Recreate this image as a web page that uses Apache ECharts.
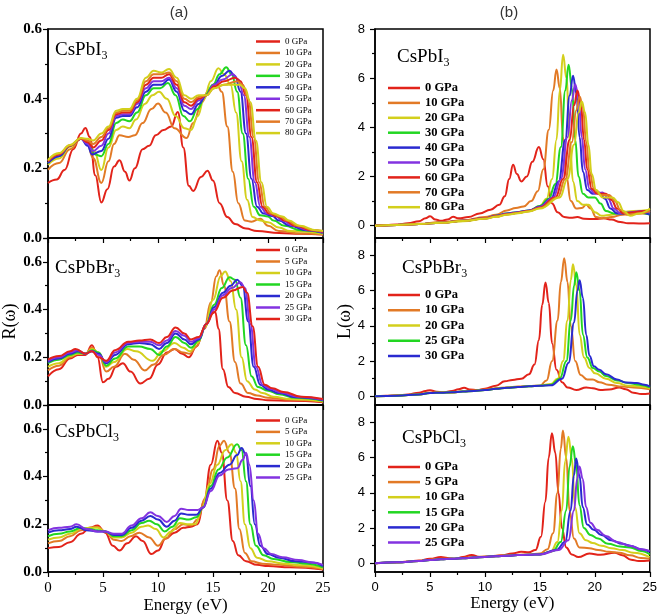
<!DOCTYPE html>
<html><head><meta charset="utf-8">
<script src="https://cdn.jsdelivr.net/npm/echarts@6/dist/echarts.min.js"></script>
<style>html,body{margin:0;padding:0;background:#fff}#c{width:660px;height:616px}</style>
</head><body><div id="c"></div><script>
// ---------- tick labels / categories ----------
const energyTicks = [0, 5, 10, 15, 20, 25];
const lossTicks = [0, 2, 4, 6, 8];
const lossMinorTicks = [1, 3, 5, 7];
const pressI = ['0 GPa','10 GPa','20 GPa','30 GPa','40 GPa','50 GPa','60 GPa','70 GPa','80 GPa'];
const pressBrR = ['0 GPa','5 GPa','10 GPa','15 GPa','20 GPa','25 GPa','30 GPa'];
const pressClR = ['0 GPa','5 GPa','10 GPa','15 GPa','20 GPa','25 GPa'];
const pressBrL = ['0 GPa','10 GPa','20 GPa','25 GPa','30 GPa'];
const pressClL = ['0 GPa','5 GPa','10 GPa','15 GPa','20 GPa','25 GPa'];

// ---------- R(w) CsPbI3 ----------
const R_I_0 = [[0,0.158],[0.8,0.168],[1.5,0.195],[2.3,0.255],[3.0,0.3],[3.4,0.316],[3.8,0.29],[4.3,0.18],[4.85,0.102],[5.4,0.14],[6.0,0.205],[6.5,0.223],[7.0,0.19],[7.4,0.165],[7.9,0.2],[8.6,0.255],[9.2,0.265],[9.8,0.295],[10.5,0.31],[11.2,0.32],[11.8,0.362],[12.3,0.26],[12.8,0.15],[13.2,0.135],[13.9,0.175],[14.5,0.193],[15.0,0.165],[15.6,0.1],[16.3,0.06],[17.0,0.04],[18.0,0.027],[19.0,0.02],[21,0.014],[23,0.012],[25,0.01]];
const R_I_10 = [[0,0.196],[1,0.215],[2,0.255],[3,0.285],[3.5,0.28],[4.1,0.23],[4.85,0.158],[5.5,0.22],[6.0,0.27],[6.5,0.295],[7.3,0.29],[7.9,0.295],[8.6,0.33],[9.4,0.37],[10,0.386],[10.7,0.36],[11.5,0.315],[12.6,0.287],[13.2,0.33],[14,0.39],[14.6,0.425],[15.3,0.445],[15.8,0.42],[16.3,0.32],[16.8,0.19],[17.3,0.1],[17.9,0.05],[18.5,0.047],[19.3,0.055],[20,0.035],[21,0.02],[23,0.013],[25,0.01]];
const R_I_20 = [[0,0.21],[1,0.228],[2,0.262],[3,0.285],[3.6,0.28],[4.2,0.25],[4.85,0.195],[5.5,0.26],[6.2,0.31],[6.8,0.32],[7.4,0.315],[8.0,0.34],[8.8,0.385],[9.5,0.41],[10.1,0.42],[10.8,0.4],[11.6,0.35],[12.4,0.315],[13,0.31],[13.6,0.35],[14.2,0.4],[14.8,0.45],[15.5,0.487],[16.0,0.47],[16.6,0.44],[17.1,0.36],[17.6,0.22],[18.1,0.11],[18.6,0.06],[19.3,0.05],[20,0.045],[21,0.03],[22,0.02],[25,0.012]];
const R_I_30 = [[0,0.215],[1,0.235],[2,0.265],[3,0.285],[3.7,0.27],[4.3,0.24],[4.85,0.235],[5.5,0.27],[6.2,0.33],[6.8,0.34],[7.4,0.335],[8.1,0.36],[8.9,0.41],[9.6,0.43],[10.2,0.43],[10.9,0.445],[11.6,0.41],[12.3,0.35],[12.9,0.335],[13.6,0.37],[14.3,0.41],[15,0.44],[15.6,0.47],[16.2,0.49],[16.7,0.47],[17.2,0.42],[17.7,0.3],[18.2,0.17],[18.7,0.09],[19.3,0.065],[20,0.062],[20.5,0.05],[21.5,0.035],[23,0.022],[25,0.015]];
const R_I_40 = [[0,0.215],[1,0.235],[2,0.265],[3,0.285],[3.6,0.265],[4.0,0.24],[4.85,0.25],[5.5,0.285],[6.2,0.345],[6.8,0.35],[7.4,0.35],[8.1,0.375],[8.9,0.42],[9.6,0.44],[10.3,0.44],[11,0.455],[11.7,0.42],[12.4,0.365],[13,0.355],[13.7,0.385],[14.4,0.41],[15.1,0.44],[15.8,0.465],[16.5,0.48],[17,0.465],[17.5,0.42],[18,0.3],[18.5,0.17],[19,0.09],[19.6,0.07],[20.4,0.063],[21,0.05],[22,0.035],[23.5,0.022],[25,0.015]];
const R_I_50 = [[0,0.22],[1,0.24],[2,0.265],[3,0.285],[3.6,0.27],[4.1,0.25],[4.85,0.265],[5.5,0.3],[6.2,0.35],[6.8,0.355],[7.4,0.355],[8.1,0.385],[8.9,0.43],[9.6,0.45],[10.3,0.45],[11,0.46],[11.7,0.43],[12.4,0.38],[13,0.37],[13.7,0.395],[14.4,0.41],[15.1,0.44],[15.9,0.455],[16.8,0.47],[17.3,0.455],[17.8,0.41],[18.3,0.29],[18.8,0.16],[19.3,0.09],[19.9,0.07],[20.7,0.063],[21.3,0.05],[22.3,0.035],[23.8,0.022],[25,0.016]];
const R_I_60 = [[0,0.22],[1,0.24],[2,0.265],[3,0.285],[3.6,0.275],[4.1,0.26],[4.85,0.28],[5.5,0.31],[6.2,0.355],[6.8,0.36],[7.4,0.36],[8.1,0.39],[8.9,0.44],[9.6,0.46],[10.3,0.46],[11,0.47],[11.7,0.44],[12.4,0.39],[13,0.38],[13.7,0.4],[14.4,0.41],[15.1,0.435],[16,0.45],[17,0.46],[17.5,0.45],[18,0.41],[18.5,0.29],[19,0.16],[19.5,0.09],[20.1,0.07],[20.9,0.062],[21.5,0.05],[22.5,0.035],[24,0.022],[25,0.018]];
const R_I_70 = [[0,0.222],[1,0.242],[2,0.266],[3,0.286],[3.6,0.28],[4.1,0.27],[4.85,0.29],[5.5,0.315],[6.2,0.36],[6.8,0.365],[7.4,0.365],[8.1,0.395],[8.9,0.45],[9.6,0.47],[10.3,0.47],[11,0.475],[11.7,0.45],[12.4,0.4],[13,0.39],[13.7,0.405],[14.4,0.41],[15.1,0.43],[16,0.44],[17.2,0.45],[17.7,0.44],[18.2,0.4],[18.7,0.29],[19.2,0.16],[19.7,0.09],[20.3,0.07],[21.1,0.062],[21.7,0.05],[22.7,0.035],[24.2,0.022],[25,0.02]];
const R_I_80 = [[0,0.224],[1,0.244],[2,0.267],[3,0.287],[3.6,0.285],[4.1,0.28],[4.85,0.3],[5.5,0.32],[6.2,0.365],[6.8,0.37],[7.4,0.37],[8.1,0.4],[8.9,0.46],[9.6,0.48],[10.3,0.475],[11,0.485],[11.7,0.46],[12.4,0.41],[13,0.4],[13.7,0.41],[14.4,0.41],[15.1,0.43],[16,0.44],[17.4,0.44],[17.9,0.43],[18.4,0.39],[18.9,0.28],[19.4,0.16],[19.9,0.09],[20.5,0.07],[21.3,0.062],[21.9,0.05],[22.9,0.035],[24.4,0.022],[25,0.02]];

// ---------- R(w) CsPbBr3 ----------
const R_Br_0 = [[0,0.12],[1,0.15],[2,0.195],[2.7,0.21],[3.4,0.21],[4.0,0.25],[4.5,0.2],[5.0,0.095],[5.5,0.11],[6.2,0.16],[6.8,0.175],[7.5,0.14],[8.4,0.09],[9.2,0.11],[10,0.17],[10.8,0.22],[11.5,0.235],[12.2,0.215],[12.8,0.2],[13.5,0.245],[14.2,0.32],[14.8,0.38],[15.2,0.39],[15.5,0.32],[15.9,0.15],[16.4,0.075],[17,0.05],[18,0.035],[19,0.025],[20,0.02],[22,0.018],[25,0.012]];
const R_Br_5 = [[0,0.145],[1,0.165],[2,0.2],[2.7,0.215],[3.4,0.215],[4.0,0.24],[4.6,0.215],[5.3,0.14],[6.0,0.16],[7.0,0.215],[7.8,0.19],[8.8,0.145],[9.6,0.17],[10.5,0.21],[11.5,0.235],[12.3,0.22],[12.9,0.215],[13.5,0.245],[14.2,0.32],[14.8,0.43],[15.3,0.54],[15.6,0.565],[16,0.5],[16.5,0.35],[17,0.18],[17.5,0.09],[18.2,0.05],[19,0.04],[20,0.03],[22,0.022],[25,0.015]];
const R_Br_10 = [[0,0.16],[1,0.175],[2,0.205],[2.7,0.215],[3.4,0.215],[4.0,0.235],[4.6,0.22],[5.3,0.16],[6.0,0.18],[7.2,0.235],[8,0.225],[9.5,0.185],[10.4,0.225],[11.5,0.26],[12.3,0.24],[12.9,0.225],[13.6,0.26],[14.3,0.33],[15,0.44],[15.7,0.54],[16.1,0.56],[16.6,0.52],[17.1,0.4],[17.6,0.2],[18.1,0.1],[18.8,0.065],[19.5,0.05],[20.5,0.035],[22,0.025],[25,0.015]];
const R_Br_15 = [[0,0.175],[1,0.19],[2,0.21],[2.7,0.22],[3.4,0.215],[4,0.23],[4.6,0.22],[5.3,0.165],[6.1,0.195],[7.3,0.245],[8.3,0.245],[9.3,0.235],[10.1,0.21],[10.8,0.245],[11.6,0.285],[12.4,0.26],[13,0.24],[13.7,0.27],[14.4,0.34],[15.1,0.42],[15.8,0.49],[16.5,0.535],[17,0.525],[17.5,0.45],[18,0.25],[18.5,0.12],[19.1,0.075],[20,0.06],[21,0.045],[22.5,0.03],[25,0.018]];
const R_Br_20 = [[0,0.18],[1,0.195],[2,0.215],[2.7,0.225],[3.4,0.215],[4,0.225],[4.6,0.215],[5.3,0.175],[6.1,0.21],[7.3,0.255],[8.3,0.26],[9.3,0.255],[10.1,0.235],[10.8,0.26],[11.6,0.3],[12.4,0.275],[13,0.255],[13.7,0.275],[14.4,0.34],[15.1,0.41],[15.9,0.47],[16.6,0.5],[17.2,0.525],[17.7,0.5],[18.2,0.35],[18.7,0.16],[19.3,0.085],[20,0.065],[21,0.05],[22.5,0.032],[25,0.02]];
const R_Br_25 = [[0,0.185],[1,0.2],[2,0.22],[2.7,0.23],[3.4,0.215],[4,0.225],[4.6,0.21],[5.3,0.18],[6.1,0.22],[7.3,0.26],[8.3,0.265],[9.3,0.265],[10.1,0.25],[10.8,0.27],[11.6,0.31],[12.4,0.29],[13,0.265],[13.7,0.28],[14.4,0.34],[15.1,0.4],[15.9,0.46],[16.7,0.49],[17.5,0.515],[17.9,0.49],[18.4,0.34],[18.9,0.16],[19.5,0.085],[20.2,0.068],[21.2,0.052],[22.7,0.035],[25,0.022]];
const R_Br_30 = [[0,0.19],[1,0.205],[2,0.225],[2.5,0.235],[3.4,0.215],[4,0.225],[4.6,0.2],[5.3,0.185],[6.1,0.23],[7.3,0.265],[8.3,0.27],[9.3,0.275],[10.1,0.26],[10.8,0.285],[11.6,0.325],[12.4,0.3],[13,0.275],[13.7,0.285],[14.4,0.34],[15.1,0.39],[15.9,0.45],[16.8,0.48],[17.7,0.495],[18.1,0.47],[18.6,0.33],[19.1,0.16],[19.7,0.085],[20.4,0.07],[21.4,0.055],[23,0.035],[25,0.025]];

// ---------- R(w) CsPbCl3 ----------
const R_Cl_0 = [[0,0.1],[1,0.105],[2,0.125],[3,0.16],[3.8,0.185],[4.5,0.195],[5.2,0.165],[5.9,0.11],[6.5,0.09],[7.2,0.12],[8,0.15],[8.6,0.13],[9.4,0.075],[10,0.09],[10.7,0.14],[11.5,0.165],[12.3,0.185],[13,0.19],[13.6,0.2],[14.2,0.3],[14.8,0.45],[15.4,0.55],[15.8,0.5],[16.3,0.3],[16.8,0.13],[17.3,0.07],[18,0.045],[19,0.03],[20,0.025],[22,0.02],[25,0.01]];
const R_Cl_5 = [[0,0.12],[1,0.13],[2,0.15],[3,0.175],[3.8,0.185],[4.5,0.19],[5.2,0.17],[6,0.135],[6.7,0.13],[7.5,0.15],[8.3,0.165],[9.2,0.145],[10,0.11],[10.7,0.14],[11.5,0.18],[12.3,0.2],[13,0.195],[13.6,0.22],[14.3,0.31],[15,0.43],[15.6,0.53],[16,0.55],[16.5,0.5],[17,0.35],[17.4,0.18],[17.9,0.08],[18.5,0.045],[19.5,0.035],[21,0.03],[23,0.022],[25,0.012]];
const R_Cl_10 = [[0,0.135],[1,0.145],[2,0.16],[3,0.18],[3.8,0.185],[4.5,0.185],[5.2,0.17],[6,0.145],[6.7,0.145],[7.6,0.165],[8.5,0.19],[9.1,0.195],[9.8,0.18],[10.5,0.145],[11.2,0.17],[12,0.205],[12.8,0.2],[13.4,0.2],[14,0.27],[14.7,0.37],[15.4,0.45],[16.1,0.51],[16.7,0.535],[17.1,0.5],[17.5,0.38],[17.9,0.2],[18.4,0.1],[19,0.06],[20,0.045],[21.5,0.035],[23,0.028],[25,0.015]];
const R_Cl_15 = [[0,0.15],[1,0.16],[2,0.17],[3,0.185],[3.8,0.18],[4.5,0.175],[5.2,0.17],[6,0.15],[6.7,0.15],[7.6,0.175],[8.5,0.205],[9.2,0.215],[9.9,0.2],[10.6,0.17],[11.3,0.19],[12,0.225],[12.8,0.22],[13.5,0.23],[14.1,0.27],[14.8,0.36],[15.5,0.43],[16.3,0.48],[17.2,0.535],[17.6,0.51],[18,0.38],[18.4,0.2],[18.9,0.11],[19.6,0.07],[20.5,0.055],[22,0.042],[23.5,0.035],[25,0.02]];
const R_Cl_20 = [[0,0.165],[1,0.175],[2,0.18],[2.6,0.19],[3.5,0.175],[4.5,0.17],[5.2,0.17],[6,0.155],[6.7,0.155],[7.6,0.185],[8.5,0.215],[9.3,0.235],[10,0.22],[10.8,0.19],[11.5,0.215],[12.1,0.245],[12.8,0.24],[13.5,0.24],[14.1,0.27],[14.8,0.35],[15.6,0.415],[16.5,0.45],[17.2,0.49],[17.6,0.52],[18,0.49],[18.4,0.36],[18.8,0.2],[19.3,0.11],[20,0.075],[21,0.06],[22.5,0.045],[24,0.04],[25,0.025]];
const R_Cl_25 = [[0,0.175],[1,0.185],[2,0.19],[2.6,0.2],[3.5,0.18],[4.5,0.17],[5.2,0.17],[6,0.16],[6.7,0.16],[7.6,0.195],[8.5,0.225],[9.3,0.25],[10,0.235],[10.8,0.21],[11.5,0.235],[12.1,0.265],[12.8,0.26],[13.6,0.26],[14.1,0.27],[14.8,0.34],[15.6,0.405],[16.4,0.43],[17.2,0.435],[17.7,0.47],[18,0.5],[18.3,0.45],[18.7,0.3],[19.1,0.16],[19.6,0.1],[20.3,0.075],[21.3,0.062],[22.8,0.05],[24,0.04],[25,0.03]];

// ---------- L(w) CsPbI3 ----------
const L_I_0 = [[0,0],[1,0.02],[2,0.05],[3,0.1],[4,0.18],[4.6,0.3],[5,0.38],[5.5,0.25],[6,0.2],[6.6,0.25],[7.1,0.36],[7.6,0.3],[8.5,0.35],[9.5,0.5],[10.5,0.65],[11.3,0.85],[11.8,1.2],[12.2,1.9],[12.55,2.48],[12.9,2.1],[13.3,1.8],[13.8,2.0],[14.3,2.6],[14.9,3.2],[15.3,2.7],[15.7,1.6],[16.1,0.9],[16.6,0.55],[17.2,0.35],[17.8,0.32],[18.4,0.35],[19,0.28],[20,0.27],[20.8,0.3],[21.5,0.25],[22.3,0.15],[23,0.1],[24,0.09],[25,0.1]];
const L_I_10 = [[0,0],[2,0.03],[4,0.08],[6,0.15],[8,0.22],[10,0.35],[11,0.45],[12,0.62],[12.8,0.72],[13.5,0.78],[14.2,1.0],[14.8,1.4],[15.3,2.3],[15.8,3.9],[16.2,5.5],[16.5,6.35],[16.8,5.6],[17.1,3.6],[17.4,2.0],[17.8,1.0],[18.3,0.7],[18.8,0.72],[19.2,0.85],[19.6,0.7],[20.1,0.35],[20.7,0.3],[21.5,0.35],[22.5,0.45],[23.5,0.5],[25,0.5]];
const L_I_20 = [[0,0],[2,0.03],[4,0.07],[6,0.12],[8,0.18],[10,0.3],[11,0.38],[12,0.47],[13,0.53],[14,0.6],[15,0.8],[15.6,1.1],[16.1,1.9],[16.5,3.5],[16.8,5.5],[17.1,6.95],[17.4,6.0],[17.7,3.5],[18,1.8],[18.4,1.0],[18.9,0.85],[19.4,0.85],[20,0.55],[20.6,0.4],[21.5,0.45],[22.5,0.55],[23.5,0.6],[25,0.65]];
const L_I_30 = [[0,0],[2,0.03],[4,0.07],[6,0.12],[8,0.2],[10,0.3],[11,0.4],[12,0.5],[13,0.55],[14,0.62],[15,0.8],[15.8,1.1],[16.4,1.7],[16.9,3.2],[17.3,5.5],[17.6,6.55],[17.9,5.6],[18.2,3.5],[18.5,2.0],[18.9,1.3],[19.4,1.15],[20,1.15],[20.5,0.9],[21,0.6],[21.7,0.5],[22.5,0.5],[23.5,0.55],[25,0.45]];
const L_I_40 = [[0,0],[2,0.03],[4,0.07],[6,0.12],[8,0.2],[10,0.3],[11,0.4],[12,0.5],[13,0.55],[14,0.62],[15,0.78],[16,1.1],[16.7,1.8],[17.3,3.5],[17.7,5.3],[18,6.1],[18.3,5.4],[18.6,3.6],[18.9,2.2],[19.3,1.45],[19.8,1.3],[20.4,1.35],[20.9,1.1],[21.4,0.7],[22,0.5],[23,0.5],[24,0.55],[25,0.45]];
const L_I_50 = [[0,0],[2,0.03],[4,0.07],[6,0.12],[8,0.2],[10,0.3],[11,0.39],[12,0.48],[13,0.54],[14,0.61],[15,0.76],[16.2,1.15],[16.9,1.9],[17.5,3.6],[17.9,5.1],[18.2,5.75],[18.5,5.2],[18.8,3.6],[19.1,2.3],[19.5,1.5],[20,1.3],[20.7,1.35],[21.2,1.1],[21.7,0.7],[22.3,0.5],[23.3,0.55],[24.3,0.6],[25,0.55]];
const L_I_60 = [[0,0],[2,0.03],[4,0.07],[6,0.12],[8,0.2],[10,0.3],[11,0.38],[12,0.47],[13,0.53],[14,0.6],[15,0.74],[16.4,1.15],[17.1,1.9],[17.7,3.5],[18.1,4.9],[18.4,5.5],[18.7,5.0],[19,3.5],[19.3,2.3],[19.7,1.5],[20.2,1.3],[21,1.3],[21.5,1.05],[22,0.7],[22.6,0.5],[23.6,0.55],[24.5,0.6],[25,0.6]];
const L_I_70 = [[0,0],[2,0.03],[4,0.07],[6,0.12],[8,0.2],[10,0.29],[11,0.37],[12,0.46],[13,0.52],[14,0.59],[15,0.72],[16.6,1.15],[17.3,1.9],[17.9,3.4],[18.3,4.7],[18.6,5.25],[18.9,4.8],[19.2,3.4],[19.5,2.2],[19.9,1.5],[20.5,1.25],[21.3,1.25],[21.8,1.0],[22.3,0.65],[22.9,0.45],[23.9,0.5],[25,0.6]];
const L_I_80 = [[0,0],[2,0.03],[4,0.07],[6,0.12],[8,0.19],[10,0.28],[11,0.36],[12,0.45],[13,0.51],[14,0.58],[15,0.7],[16.8,1.15],[17.5,1.9],[18.1,3.3],[18.5,4.6],[18.8,5.05],[19.1,4.6],[19.4,3.3],[19.7,2.1],[20.1,1.45],[20.7,1.15],[21.6,1.15],[22.1,0.95],[22.6,0.6],[23.2,0.4],[24,0.5],[25,0.7]];

// ---------- L(w) CsPbBr3 ----------
const L_Br_0 = [[0,0],[1,0.02],[2,0.05],[3,0.1],[4,0.2],[4.6,0.3],[5,0.34],[5.6,0.25],[6.2,0.22],[7,0.3],[7.6,0.4],[8.1,0.48],[8.6,0.38],[9.3,0.35],[10,0.42],[11,0.6],[11.8,0.85],[12.5,0.92],[13.3,1.0],[14,1.25],[14.5,1.8],[14.9,3.2],[15.2,5.2],[15.5,6.47],[15.8,5.3],[16.1,3.0],[16.5,1.5],[17,0.8],[17.5,0.5],[18.3,0.35],[19.2,0.5],[19.8,0.45],[20.5,0.35],[21.3,0.38],[22.2,0.5],[22.8,0.4],[23.5,0.2],[24.2,0.12],[25,0.15]];
const L_Br_10 = [[0,0],[2,0.03],[4,0.1],[5,0.2],[6,0.22],[7,0.2],[8,0.28],[9,0.32],[10,0.38],[11,0.45],[12,0.5],[13,0.55],[14,0.58],[15,0.6],[15.6,0.9],[16.1,2.0],[16.6,4.3],[16.9,6.5],[17.2,7.85],[17.5,6.5],[17.8,4.0],[18.2,2.0],[18.7,1.2],[19.3,0.95],[19.8,0.95],[20.4,0.8],[21.2,0.65],[22.5,0.55],[23.5,0.5],[25,0.4]];
const L_Br_20 = [[0,0],[2,0.03],[4,0.1],[5,0.18],[6,0.2],[7,0.22],[8,0.27],[9,0.3],[10,0.35],[11,0.42],[12,0.48],[13,0.52],[14,0.56],[15,0.6],[16,0.7],[16.6,1.0],[17.1,2.0],[17.5,4.3],[17.8,6.6],[18,7.5],[18.3,6.3],[18.6,3.5],[19,2.2],[19.5,1.6],[20,1.3],[21,1.0],[22,0.75],[23,0.6],[24,0.55],[25,0.45]];
const L_Br_25 = [[0,0],[2,0.03],[4,0.1],[5,0.18],[6,0.2],[7,0.22],[8,0.27],[9,0.3],[10,0.35],[11,0.42],[12,0.48],[13,0.52],[14,0.56],[15,0.6],[16,0.65],[16.8,1.0],[17.4,2.0],[17.8,4.3],[18.1,6.3],[18.3,7.05],[18.6,6.0],[18.9,3.5],[19.3,2.2],[19.8,1.6],[20.4,1.4],[21,1.15],[22,0.9],[23,0.75],[24,0.65],[25,0.5]];
const L_Br_30 = [[0,0],[2,0.03],[4,0.1],[5,0.18],[6,0.2],[7,0.22],[8,0.27],[9,0.3],[10,0.35],[11,0.42],[12,0.48],[13,0.52],[14,0.56],[15,0.6],[16,0.62],[17,1.0],[17.6,1.9],[18.1,4.2],[18.4,6.0],[18.6,6.6],[18.9,5.6],[19.2,3.5],[19.5,2.3],[19.9,1.7],[20.4,1.5],[21,1.25],[22,0.95],[22.8,0.78],[23.8,0.75],[24.5,0.65],[25,0.55]];

// ---------- L(w) CsPbCl3 ----------
const L_Cl_0 = [[0,0],[1,0.02],[2,0.05],[3,0.1],[4,0.15],[5,0.25],[6,0.35],[6.6,0.3],[7.3,0.25],[8,0.35],[8.8,0.47],[9.5,0.35],[10.5,0.38],[11.5,0.45],[12.5,0.55],[13.3,0.65],[14,0.62],[14.6,0.75],[15.1,1.5],[15.5,3.5],[15.8,6.0],[16.1,7.4],[16.4,6.3],[16.7,4.0],[17,2.0],[17.4,0.9],[17.9,0.5],[18.5,0.35],[19.5,0.55],[20.5,0.48],[21.8,0.6],[22.5,0.45],[23.3,0.2],[24,0.12],[25,0.15]];
const L_Cl_5 = [[0,0],[2,0.04],[4,0.12],[5,0.2],[6,0.25],[7,0.25],[8,0.3],[9,0.35],[10,0.38],[11,0.42],[12,0.45],[13,0.48],[14,0.5],[15,0.55],[15.7,0.8],[16.2,1.7],[16.6,4.0],[16.9,6.5],[17.1,7.55],[17.4,6.0],[17.7,3.0],[18.1,1.4],[18.6,0.9],[19.5,0.85],[20.3,0.75],[21.3,0.65],[22.2,0.6],[23.2,0.45],[24.2,0.3],[25,0.25]];
const L_Cl_10 = [[0,0],[2,0.05],[4,0.12],[5,0.18],[6,0.22],[7,0.25],[8,0.28],[9,0.32],[10,0.36],[11,0.4],[12,0.43],[13,0.46],[14,0.48],[15,0.5],[16,0.65],[16.6,1.2],[17,3.0],[17.3,5.8],[17.6,7.2],[17.9,6.0],[18.2,3.2],[18.6,1.7],[19.2,1.3],[19.8,1.15],[20.6,1.0],[21.5,0.85],[22.5,0.75],[23.5,0.6],[25,0.35]];
const L_Cl_15 = [[0,0],[2,0.05],[4,0.12],[5,0.18],[6,0.22],[7,0.25],[8,0.28],[9,0.32],[10,0.36],[11,0.4],[12,0.43],[13,0.46],[14,0.48],[15,0.5],[16.2,0.7],[16.9,1.2],[17.4,3.0],[17.7,5.5],[18,6.65],[18.3,5.6],[18.6,3.3],[19,2.0],[19.6,1.6],[20.3,1.4],[21.2,1.1],[22.3,0.95],[23.2,0.9],[24.2,0.7],[25,0.5]];
const L_Cl_20 = [[0,0],[2,0.05],[4,0.12],[5,0.18],[6,0.22],[7,0.25],[8,0.28],[9,0.32],[10,0.36],[11,0.4],[12,0.43],[13,0.46],[14,0.48],[15,0.5],[16.5,0.75],[17.3,1.2],[17.8,3.0],[18.1,5.0],[18.3,5.95],[18.6,5.0],[18.9,3.2],[19.3,2.2],[19.9,1.9],[20.6,1.6],[21.5,1.3],[22.5,1.1],[23.2,1.0],[24.2,0.8],[25,0.65]];
const L_Cl_25 = [[0,0],[2,0.05],[4,0.12],[5,0.18],[6,0.22],[7,0.25],[8,0.28],[9,0.32],[10,0.36],[11,0.4],[12,0.43],[13,0.46],[14,0.48],[15,0.5],[16.7,0.75],[17.6,1.3],[18.1,3.0],[18.4,4.8],[18.6,5.5],[18.9,4.8],[19.2,3.2],[19.6,2.3],[20.2,1.9],[21,1.55],[22,1.2],[23.2,1.0],[24.2,0.8],[25,0.7]];

// ---------- styling ----------
const RED='#e2231a', ORANGE='#e27a26', YELLOW='#d3cf1c', GREEN='#22d622', BLUE='#2a2ad0', PURPLE='#8333e0';
const serif = '"Liberation Serif","DejaVu Serif",serif';
const sans = '"Liberation Sans","DejaVu Sans",Arial,sans-serif';

const panels = [
  {key:'a1', names:pressI, colors:[RED,ORANGE,YELLOW,GREEN,BLUE,PURPLE,RED,ORANGE,YELLOW],
   curves:[R_I_0,R_I_10,R_I_20,R_I_30,R_I_40,R_I_50,R_I_60,R_I_70,R_I_80]},
  {key:'a2', names:pressBrR, colors:[RED,ORANGE,YELLOW,GREEN,BLUE,PURPLE,RED],
   curves:[R_Br_0,R_Br_5,R_Br_10,R_Br_15,R_Br_20,R_Br_25,R_Br_30]},
  {key:'a3', names:pressClR, colors:[RED,ORANGE,YELLOW,GREEN,BLUE,PURPLE],
   curves:[R_Cl_0,R_Cl_5,R_Cl_10,R_Cl_15,R_Cl_20,R_Cl_25]},
  {key:'b1', names:pressI, colors:[RED,ORANGE,YELLOW,GREEN,BLUE,PURPLE,RED,ORANGE,YELLOW],
   curves:[L_I_0,L_I_10,L_I_20,L_I_30,L_I_40,L_I_50,L_I_60,L_I_70,L_I_80]},
  {key:'b2', names:pressBrL, colors:[RED,ORANGE,YELLOW,GREEN,BLUE],
   curves:[L_Br_0,L_Br_10,L_Br_20,L_Br_25,L_Br_30]},
  {key:'b3', names:pressClL, colors:[RED,ORANGE,YELLOW,GREEN,BLUE,PURPLE],
   curves:[L_Cl_0,L_Cl_5,L_Cl_10,L_Cl_15,L_Cl_20,L_Cl_25]}
];

const grids = [
  {left:48, top:29, width:275, height:209},
  {left:48, top:238, width:275, height:167},
  {left:48, top:405, width:275, height:167},
  {left:375, top:29, width:275, height:209},
  {left:375, top:238, width:275, height:167},
  {left:375, top:405, width:275, height:167}
].map(g => Object.assign(g, {show:true, borderColor:'#000', borderWidth:1.5, backgroundColor:'transparent'}));

const tickLine = {color:'#000', width:1.2};
function xAx(g){
  const bottom = (g % 3) === 2, right = g >= 3;
  return {type:'value', gridIndex:g, min:0, max:25, interval:5,
    axisLine:{show:true, onZero:false, lineStyle:{color:'#000', width:1.5}},
    axisTick:{show:true, inside:false, length:5, lineStyle:tickLine},
    minorTick:{show:true, splitNumber:2, length:3, lineStyle:tickLine},
    splitLine:{show:false}, minorSplitLine:{show:false},
    axisLabel:{show:bottom, margin:9, color:'#000', customValues: energyTicks,
      fontFamily: right ? sans : serif, fontSize: right ? 13 : 15},
    name: bottom ? 'Energy (eV)' : '', nameLocation:'middle', nameGap:22,
    nameTextStyle:{fontFamily:serif, fontSize:17, color:'#000'}
  };
}
function yAxL(g, max){
  return {type:'value', gridIndex:g, min:0, max:max, interval:0.2,
    axisLine:{show:true, onZero:false, lineStyle:{color:'#000', width:1.5}},
    axisTick:{show:true, length:5, lineStyle:tickLine},
    minorTick:{show:true, splitNumber:2, length:3, lineStyle:tickLine},
    splitLine:{show:false}, minorSplitLine:{show:false},
    axisLabel:{margin:6, color:'#000', fontFamily:serif, fontWeight:'bold', fontSize:15,
      formatter: v => (v > 0.65 ? '' : v.toFixed(1))},
    name: g === 1 ? 'R(ω)' : '', nameLocation:'middle', nameGap:25,
    nameTextStyle:{fontFamily:serif, fontSize:18, color:'#000'}
  };
}
function yAxR(g, max){
  return {type:'value', gridIndex:g, min:-0.5, max:max,
    axisLine:{show:true, onZero:false, lineStyle:{color:'#000', width:1.5}},
    axisTick:{show:true, length:5, lineStyle:tickLine, customValues: lossTicks},
    splitLine:{show:false},
    axisLabel:{margin:10, color:'#000', fontFamily:sans, fontSize:13, customValues: lossTicks},
    name: g === 4 ? 'L(ω)' : '', nameLocation:'middle', nameGap:16,
    nameTextStyle:{fontFamily:serif, fontSize:18, color:'#000'}
  };
}
function yAxRMinor(g, max){
  return {type:'value', gridIndex:g, min:-0.5, max:max, position:'left', offset:0,
    axisLine:{show:false},
    axisTick:{show:true, length:3, lineStyle:tickLine, customValues: lossMinorTicks},
    axisLabel:{show:false}, splitLine:{show:false}};
}

const series = [];
panels.forEach((p, g) => {
  p.curves.forEach((d, i) => {
    series.push({type:'line', name: p.key + '|' + p.names[i], xAxisIndex:g, yAxisIndex:g,
      data:d, showSymbol:false, smooth:0.45, smoothMonotone:'x', clip:true,
      lineStyle:{width:2, color:p.colors[i]}, itemStyle:{color:p.colors[i]}, emphasis:{disabled:true}});
  });
});

const legendPos = [
  {left:256, top:36, w:24, fs:9, lh:11, gap:0.45, bold:false},
  {left:256, top:244.5, w:24, fs:9, lh:11, gap:0.5, bold:false},
  {left:256, top:415, w:24, fs:9, lh:11, gap:0.4, bold:false},
  {left:388, top:81, w:32, fs:12.5, lh:14, gap:0.9, bold:true},
  {left:388, top:288, w:32, fs:12.5, lh:14, gap:1.25, bold:true},
  {left:388, top:460, w:32, fs:12.5, lh:14, gap:1.1, bold:true}
];
const legends = panels.map((p, g) => {
  const L = legendPos[g];
  return {orient:'vertical', left:L.left, top:L.top, padding:0, itemWidth:L.w, itemHeight:2.5,
    itemGap:L.gap, icon:'rect', selectedMode:false,
    data: p.names.map(n => p.key + '|' + n), formatter: n => n.split('|')[1],
    textStyle:{fontFamily:serif, fontSize:L.fs, lineHeight:L.lh, color:'#000', fontWeight: L.bold ? 'bold' : 'normal'}};
});

function panelLabel(x, y, main, sub){
  return {type:'text', x:x, y:y, z:50,
    style:{text:'{m|' + main + '}{s|' + sub + '}', align:'left', verticalAlign:'middle',
      rich:{m:{fontSize:19, fontFamily:serif, fill:'#000', lineHeight:24},
            s:{fontSize:12, fontFamily:serif, fill:'#000', lineHeight:12, verticalAlign:'bottom'}}}};
}

const option = {
  animation:false,
  backgroundColor:'#fff',
  grid: grids,
  xAxis: [0,1,2,3,4,5].map(xAx),
  yAxis: [yAxL(0,0.6), yAxL(1,0.7), yAxL(2,0.7), yAxR(3,8), yAxR(4,9), yAxR(5,9),
          yAxRMinor(3,8), yAxRMinor(4,9), yAxRMinor(5,9)],
  legend: legends,
  series: series,
  graphic: [
    {type:'text', x:179, y:13, style:{text:'(a)', font:'15px ' + sans, fill:'#333', align:'center', verticalAlign:'middle'}},
    {type:'text', x:509, y:13, style:{text:'(b)', font:'15px ' + sans, fill:'#333', align:'center', verticalAlign:'middle'}},
    panelLabel(55, 50, 'CsPbI', '3'),
    panelLabel(397, 57, 'CsPbI', '3'),
    panelLabel(55, 268, 'CsPbBr', '3'),
    panelLabel(402, 268, 'CsPbBr', '3'),
    panelLabel(55, 432, 'CsPbCl', '3'),
    panelLabel(402, 438, 'CsPbCl', '3')
  ]
};
const chart = echarts.init(document.getElementById('c'), null, {renderer:'canvas'});
chart.setOption(option);
</script></body></html>
